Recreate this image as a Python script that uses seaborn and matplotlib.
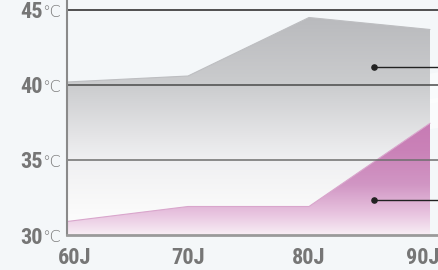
import numpy as np
import pandas as pd
import matplotlib
matplotlib.use("Agg")
import matplotlib.pyplot as plt
from matplotlib.colors import LinearSegmentedColormap
from matplotlib import font_manager as fm
import seaborn as sns

# ---- data ----
categories = ["60J", "70J", "80J", "90J"]
upper_temp = [40.2, 40.6, 44.5, 43.7]
lower_temp = [30.9, 31.9, 31.9, 37.45]
y_ticks = [30, 35, 40, 45]
y_labels = ["30", "35", "40", "45"]
marker_points_x = [2.54, 2.54]
marker_points_y = [41.2, 32.35]

sns.set_theme(style="white")
available = {f.name for f in fm.fontManager.ttflist}
narrow = None
for cand in ["Roboto Condensed", "Liberation Sans Narrow", "Arial Narrow",
             "Open Sans Condensed", "PT Sans Narrow", "Archivo Narrow",
             "Liberation Sans"]:
    if cand in available:
        narrow = cand
        break
FONT = [narrow, "DejaVu Sans"] if narrow else ["DejaVu Sans"]
plt.rcParams["font.family"] = FONT

bg = "#f4f7f9"
fig = plt.figure(figsize=(4.38, 2.70), dpi=100, facecolor=bg)
ax = fig.add_axes([67 / 438, 35 / 270, 1 - 67 / 438, 235 / 270])
ax.set_facecolor(bg)

x = np.arange(len(categories))
df = pd.DataFrame({"x": np.concatenate([x, x]),
                   "temp": upper_temp + lower_temp,
                   "series": ["upper"] * 4 + ["lower"] * 4})

ymin, ymax = 30, 30 + 235 / 15
xmax = 3 + 8 / 121
ax.set_xlim(0, xmax)
ax.set_ylim(ymin, ymax)

# subtle diagonal streaks in background
for off, alpha in [(-0.5, 0.6), (1.2, 0.5)]:
    xs = np.array([0, xmax])
    ax.fill_between(xs, 34 + off + xs * 1.2, 36 + off + xs * 1.2, color="white",
                    alpha=alpha, lw=0, zorder=0)

def gradient_fill(xv, yv, stops, zorder):
    poly = ax.fill_between(xv, yv, ymin, color="none", lw=0, zorder=zorder)
    cmap = LinearSegmentedColormap.from_list("g", stops)
    grad = np.linspace(0, 1, 256).reshape(-1, 1)
    top = max(yv)
    im = ax.imshow(grad, aspect="auto", cmap=cmap, origin="lower",
                   extent=[0, xmax, ymin, top], zorder=zorder)
    path = poly.get_paths()[0]
    im.set_clip_path(path, transform=ax.transData)

gray_stops = [(0.0, "#ffffff"), (0.14, "#f9f9f9"), (0.345, "#f0f0f2"),
              (0.69, "#cbccce"), (1.0, "#b9babd")]
pink_stops = [(0.0, "#f8eef5"), (0.2, "#e7c2de"), (0.45, "#d196c4"),
              (0.75, "#ca82b8"), (1.0, "#c77bb4")]
gradient_fill(x, upper_temp, gray_stops, 1)
gradient_fill(x, lower_temp, pink_stops, 2)

sns.lineplot(data=df[df.series == "upper"], x="x", y="temp", ax=ax,
             color="#bdbec1", lw=0.8, zorder=3, legend=False)
sns.lineplot(data=df[df.series == "lower"], x="x", y="temp", ax=ax,
             color="#d9a6cc", lw=0.8, zorder=3, legend=False)

# grid lines
grid_colors = {45: "#222222", 40: "#4a4a4a", 35: "#6e6e6e"}
for t, c in grid_colors.items():
    ax.axhline(t, color=c, lw=1.1, zorder=4)

# marker dots with leader lines
for mx, my in zip(marker_points_x, marker_points_y):
    ax.plot([mx, xmax], [my, my], color="#222222", lw=1.0, zorder=5)
    ax.scatter([mx], [my], s=14, color="#222222", zorder=6)

# spines
for s in ["top", "right"]:
    ax.spines[s].set_visible(False)
ax.spines["left"].set_color("#8a8a8a")
ax.spines["left"].set_linewidth(1.5)
ax.spines["bottom"].set_color("#9a9a9a")
ax.spines["bottom"].set_linewidth(2)
ax.spines["left"].set_zorder(7)
ax.spines["bottom"].set_zorder(7)

# y ticks
ax.set_yticks(y_ticks)
ax.set_yticklabels(y_labels, fontsize=16, fontweight="bold", color="#767676",
                   family=FONT)
ax.tick_params(axis="y", length=0, pad=17.6)
for t in y_ticks:
    ax.annotate("\u2103", xy=(0, t), xycoords=ax.get_yaxis_transform(),
                xytext=(-5.2, -1.5), textcoords="offset points", ha="right",
                va="center", fontsize=11.5, color="#7a7a7a",
                family=["DejaVu Sans"], fontweight="light",
                annotation_clip=False)

# x ticks
ax.set_xticks([0.066, 1, 2, 2.94])
ax.set_xticklabels(categories, fontsize=16, fontweight="bold", color="#767676",
                   family=FONT)
ax.tick_params(axis="x", length=0, pad=9)
ax.set_xlabel("")
ax.set_ylabel("")

fig.savefig("out.png", dpi=100, facecolor=bg)
